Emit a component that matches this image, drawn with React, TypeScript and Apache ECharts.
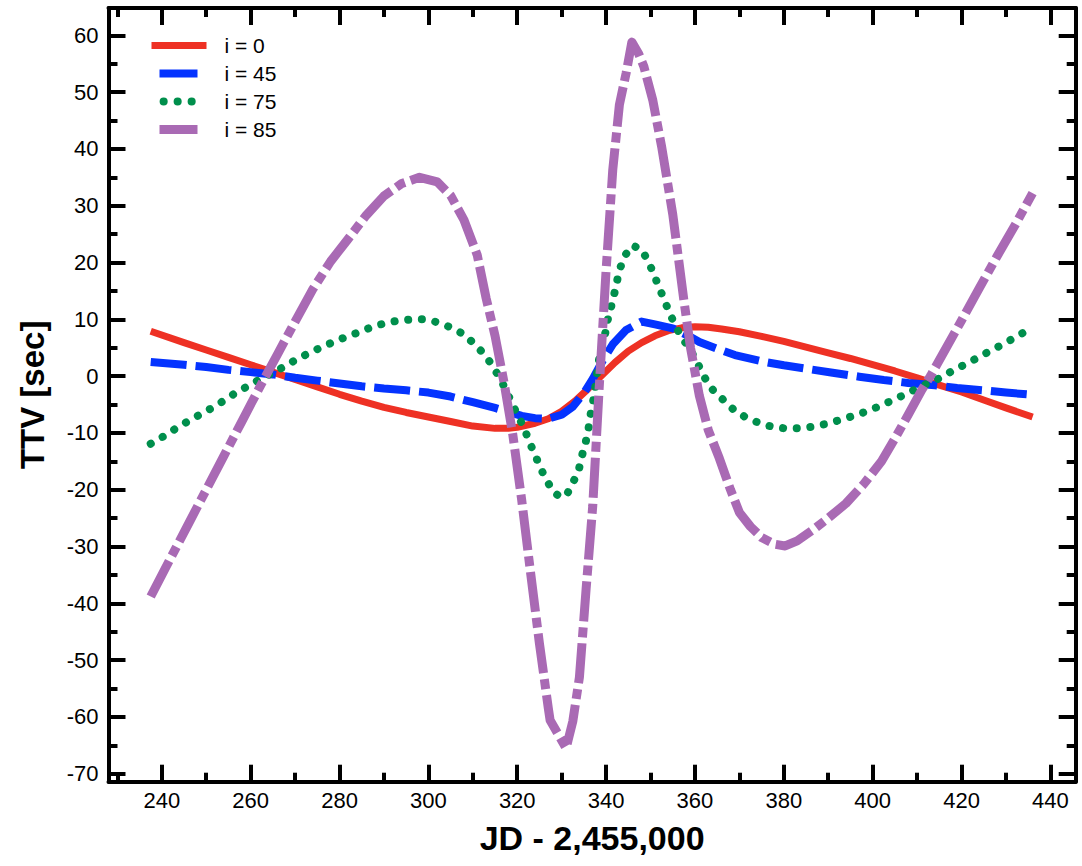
import React, { useEffect, useRef } from "react";
import * as echarts from "echarts";

const FONT = "'Liberation Sans', Arial, Helvetica, sans-serif";

const X_MIN = 228;
const X_MAX = 445.7;
const Y_MIN = -71.4;
const Y_MAX = 64.8;

const xMajorTicks = [240, 260, 280, 300, 320, 340, 360, 380, 400, 420, 440];
const xMinorTicks = [230, 250, 270, 290, 310, 330, 350, 370, 390, 410, 430];
const yMajorTicks = [-70, -60, -50, -40, -30, -20, -10, 0, 10, 20, 30, 40, 50, 60];
const yMinorTicks = [-65, -55, -45, -35, -25, -15, -5, 5, 15, 25, 35, 45, 55];

const seriesNames = ["i = 0", "i = 45", "i = 75", "i = 85"];

const i0Data = [
  [237.5, 7.9], [245, 5.9], [250, 4.6], [255, 3.3], [260, 2.0], [265, 0.7],
  [270, -0.6], [275, -1.9], [280, -3.2], [285, -4.4], [290, -5.5], [295, -6.4],
  [300, -7.2], [305, -8.0], [310, -8.8], [315, -9.2], [318, -9.2], [320, -9.0],
  [324, -8.3], [327, -7.5], [330, -6.2], [333, -4.4], [336, -2.2], [339, 0.1],
  [342, 2.4], [345, 4.4], [348, 5.9], [351, 7.1], [354, 8.0], [357, 8.5],
  [360, 8.7], [363, 8.6], [366, 8.3], [370, 7.8], [375, 7.0], [380, 6.1],
  [385, 5.1], [390, 4.1], [395, 3.1], [400, 2.0], [405, 0.9], [410, -0.3],
  [415, -1.6], [420, -2.8], [425, -4.2], [430, -5.6], [436, -7.2],
];

const i45Data = [
  [237.5, 2.5], [245, 2.0], [250, 1.6], [255, 1.1], [260, 0.7], [265, 0.3],
  [270, -0.3], [275, -0.8], [280, -1.3], [285, -1.8], [290, -2.2], [295, -2.5],
  [300, -2.9], [305, -3.6], [310, -4.6], [315, -5.6], [318, -6.3], [321, -7.0],
  [324, -7.4], [327, -7.5], [330, -6.8], [332.5, -5.4], [335, -3.0], [337, -0.5],
  [339.5, 3.1], [341.5, 5.6], [344.5, 8.1], [348, 9.6], [351, 9.1], [355, 8.4],
  [359, 6.9], [361, 6.0], [365, 4.8], [369, 3.7], [375, 2.6], [380, 1.9],
  [385, 1.3], [391, 0.6], [397, -0.1], [402.5, -0.7], [408, -1.2], [414, -1.6],
  [419, -2.1], [425, -2.5], [430, -2.9], [436, -3.3],
];

const i75Data = [
  [237.5, -11.9], [240.4, -10.6], [243, -9.3], [245.8, -8.0], [248.5, -6.8],
  [251.3, -5.6], [254, -4.3], [256.5, -3.0], [259.3, -1.8], [262, -0.6],
  [265, 0.6], [267.4, 1.6], [270, 2.8], [273, 4.0], [276, 5.1], [278.6, 6.0],
  [281.5, 6.9], [284.6, 7.8], [287.5, 8.7], [290.6, 9.4], [293.5, 9.8],
  [296.6, 10.0], [299, 10.0], [301, 9.7], [303, 9.2], [305.6, 8.4], [308.3, 7.2],
  [310.5, 5.5], [312.8, 3.7], [314.6, 1.6], [316.1, -0.4], [317.5, -2.5],
  [318.8, -4.8], [320.3, -7.2], [321.6, -9.2], [322.7, -11.6], [324, -13.8],
  [325.1, -16.0], [326.6, -18.3], [328.1, -20.4], [329.6, -21.2], [331, -21.1],
  [332.5, -18.8], [333.8, -16.7], [334.5, -14.2], [335.3, -12.0], [336, -9.5],
  [336.4, -7.2], [337, -4.8], [337.5, -2.3], [337.9, 0.2], [338.3, 2.5],
  [339, 5.0], [339.8, 7.5], [340.3, 9.7], [341.1, 12.1], [342, 15.0],
  [343, 18.7], [344.3, 21.3], [346, 23.0], [348.1, 22.2], [349.9, 19.5],
  [352.2, 15.1], [354.5, 10.7], [356.7, 7.2], [359, 4.6], [361.2, 1.3],
  [362.3, -0.4], [364.1, -2.5], [366.4, -4.2], [368.7, -5.9], [371.3, -7.2],
  [374.3, -8.2], [377.3, -8.9], [380.3, -9.2], [383.5, -9.2], [386.5, -8.9],
  [389.7, -8.4], [392.7, -7.7], [395.7, -7.0], [398.7, -6.2], [401.5, -5.3],
  [404.3, -4.3], [407.1, -3.3], [409.9, -2.2], [412.7, -1.2], [415.5, -0.2],
  [418.3, 1.1], [421.2, 2.2], [423.8, 3.3], [426.6, 4.5], [429.3, 5.6],
  [432, 6.8], [434.9, 8.1],
];

const i85Data = [
  [237.5, -38.8], [242, -32.0], [246, -26.0], [250, -20.0], [254, -14.0],
  [258, -8.0], [262, -2.0], [266, 3.8], [270, 9.6], [274, 15.3], [278, 20.2],
  [282, 24.2], [286, 28.3], [290, 31.7], [294, 33.9], [298, 35.0], [302, 34.2],
  [305, 31.8], [308, 27.5], [311, 21.3], [313, 13.7], [315, 7.1], [317, -1.0],
  [319, -10.3], [321, -21.8], [323, -34.6], [325, -47.1], [327, -58.5],
  [327.4, -60.6], [331, -65.5], [332.5, -60.8], [334, -53.0], [335.5, -37.5],
  [337, -22.8], [338.5, -1.3], [340, 18.6], [341.5, 36.3], [343, 47.8],
  [344.5, 53.3], [345.8, 58.8], [347.3, 56.8], [348.5, 54.5], [350.5, 48.6],
  [352.5, 40.4], [355, 28.5], [357.5, 13.4], [359, 5.0], [361, -3.5],
  [363, -9.5], [365.5, -14.5], [368, -20.0], [370, -24.0], [372.5, -26.5],
  [375, -28.4], [378, -29.6], [380.3, -29.9], [383, -29.0], [386.5, -27.1],
  [390, -25.0], [394, -22.4], [398, -19.0], [402, -15.0], [405, -11.0],
  [408, -6.8], [411, -2.5], [413, 0.0], [416, 4.2], [420, 9.8], [424, 15.5],
  [428, 21.1], [432, 26.5], [436, 32.2],
];

const colors = ["#EE3124", "#0433FF", "#008F4C", "#A96AB4"];

export default function App() {
  const ref = useRef<HTMLDivElement>(null);

  useEffect(() => {
    if (!ref.current) return;
    const chart = echarts.init(ref.current, null, { renderer: "svg" });

    const axisLineStyle = { color: "#000", width: 4 };
    const tickStyle = { color: "#000", width: 4 };

    const xBase = {
      type: "value" as const,
      min: X_MIN,
      max: X_MAX,
      splitLine: { show: false },
    };
    const yBase = {
      type: "value" as const,
      min: Y_MIN,
      max: Y_MAX,
      splitLine: { show: false },
    };

    const option: any = {
      animation: false,
      backgroundColor: "#fff",
      grid: { left: 108.5, right: 6.3, top: 8, bottom: 84.3, containLabel: false },
      legend: {
        show: true,
        orient: "vertical",
        left: 147,
        top: 35,
        padding: 0,
        itemWidth: 55,
        itemHeight: 14,
        itemGap: 7,
        selectedMode: false,
        itemStyle: { opacity: 0, borderWidth: 0 },
        textStyle: {
          fontSize: 21,
          color: "#000",
          fontFamily: FONT,
          lineHeight: 20,
          padding: [0, 0, 0, 13],
        },
        data: [
          { name: seriesNames[0], lineStyle: { width: 7 } },
          { name: seriesNames[1], lineStyle: { width: 8, type: [0.001, 8, 38, 20] } },
          {
            name: seriesNames[2],
            lineStyle: { width: 8, type: [0.1, 13.9, 0.1, 13.9, 0.1, 60], dashOffset: 76.3, cap: "round" },
          },
          { name: seriesNames[3], lineStyle: { width: 9, type: [0.001, 8, 38, 20] } },
        ],
      },
      xAxis: [
        {
          ...xBase,
          position: "bottom",
          axisLine: { show: true, onZero: false, lineStyle: axisLineStyle },
          axisTick: { show: true, inside: true, length: 17, customValues: xMajorTicks, lineStyle: tickStyle },
          axisLabel: {
            show: true,
            customValues: xMajorTicks,
            fontSize: 22,
            color: "#000",
            fontFamily: FONT,
            margin: 8,
          },
          name: "JD - 2,455,000",
          nameLocation: "middle",
          nameGap: 39,
          nameTextStyle: { fontSize: 34, fontWeight: "bold", color: "#000", fontFamily: FONT },
        },
        {
          ...xBase,
          position: "bottom",
          axisLine: { show: false, onZero: false },
          axisTick: { show: true, inside: true, length: 9, customValues: xMinorTicks, lineStyle: tickStyle },
          axisLabel: { show: false },
        },
        {
          ...xBase,
          position: "top",
          axisLine: { show: true, onZero: false, lineStyle: axisLineStyle },
          axisTick: { show: true, inside: true, length: 17, customValues: xMajorTicks, lineStyle: tickStyle },
          axisLabel: { show: false },
        },
        {
          ...xBase,
          position: "top",
          axisLine: { show: false, onZero: false },
          axisTick: { show: true, inside: true, length: 9, customValues: xMinorTicks, lineStyle: tickStyle },
          axisLabel: { show: false },
        },
      ],
      yAxis: [
        {
          ...yBase,
          position: "left",
          axisLine: { show: true, onZero: false, lineStyle: axisLineStyle },
          axisTick: { show: true, inside: true, length: 17, customValues: yMajorTicks, lineStyle: tickStyle },
          axisLabel: {
            show: true,
            customValues: yMajorTicks,
            fontSize: 22,
            color: "#000",
            fontFamily: FONT,
            margin: 10,
          },
          name: "TTV [sec]",
          nameLocation: "middle",
          nameGap: 60,
          nameRotate: 90,
          nameTextStyle: { fontSize: 33, fontWeight: "bold", color: "#000", fontFamily: FONT },
        },
        {
          ...yBase,
          position: "left",
          axisLine: { show: false, onZero: false },
          axisTick: { show: true, inside: true, length: 9, customValues: yMinorTicks, lineStyle: tickStyle },
          axisLabel: { show: false },
        },
        {
          ...yBase,
          position: "right",
          axisLine: { show: true, onZero: false, lineStyle: axisLineStyle },
          axisTick: { show: true, inside: true, length: 17, customValues: yMajorTicks, lineStyle: tickStyle },
          axisLabel: { show: false },
        },
        {
          ...yBase,
          position: "right",
          axisLine: { show: false, onZero: false },
          axisTick: { show: true, inside: true, length: 9, customValues: yMinorTicks, lineStyle: tickStyle },
          axisLabel: { show: false },
        },
      ],
      series: [
        {
          name: seriesNames[0],
          type: "line",
          data: i0Data,
          symbol: "none",
          showSymbol: false,
          color: colors[0],
          lineStyle: { color: colors[0], width: 7, type: "solid", join: "round" },
          z: 2,
        },
        {
          name: seriesNames[1],
          type: "line",
          data: i45Data,
          symbol: "none",
          showSymbol: false,
          color: colors[1],
          lineStyle: { color: colors[1], width: 8, type: [36, 9], join: "round" },
          z: 3,
        },
        {
          name: seriesNames[2],
          type: "line",
          data: i75Data,
          symbol: "none",
          showSymbol: false,
          color: colors[2],
          lineStyle: { color: colors[2], width: 8, type: [0.1, 13.6], cap: "round", join: "round" },
          z: 4,
        },
        {
          name: seriesNames[3],
          type: "line",
          data: i85Data,
          symbol: "none",
          showSymbol: false,
          color: colors[3],
          lineStyle: { color: colors[3], width: 9, type: [40, 6, 10, 6], join: "round" },
          z: 5,
        },
      ],
    };

    chart.setOption(option);
    return () => {
      chart.dispose();
    };
  }, []);

  return (
    <div
      ref={ref}
      style={{ position: "absolute", left: 0, top: 0, width: "1082px", height: "866px", background: "#fff" }}
    />
  );
}
